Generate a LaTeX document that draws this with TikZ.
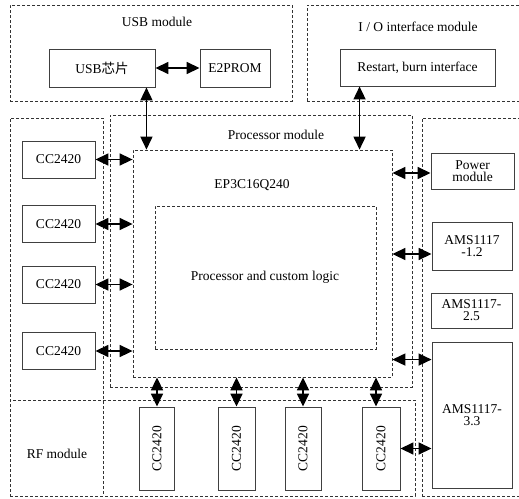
\documentclass[tikz,border=0pt]{standalone}
\usepackage{fontspec}
\setmainfont{Liberation Serif}
\newfontfamily\cjk{Noto Sans CJK SC}
\usepackage{tikz}
\usetikzlibrary{arrows.meta,positioning}

\begin{document}
\begin{tikzpicture}[
    x=1pt, y=-1pt,
    font=\fontsize{13.5}{15}\selectfont,
    link/.style={{Triangle[length=13pt,width=12pt]}-{Triangle[length=13pt,width=12pt]}, line width=1.6pt, draw=black},
    frame/.style={
      draw=black!80,
      line width=0.8pt,
      dash pattern=on 3pt off 2pt,
      inner sep=0pt
    },
    chip/.style={
      draw=black!75,
      line width=0.9pt,
      align=center,
      inner sep=2pt
    },
    label/.style={inner sep=0pt, align=center}
  ]
    \clip (0,0) rectangle (519,498);

    % module frames
    \node[frame, minimum width=282pt, minimum height=96pt] (usbmod) at (151,53) {};
    \node[frame, minimum width=223pt, minimum height=96pt] (iomod) at (418.5,53) {};
    \node[frame, minimum width=93pt, minimum height=378pt] (leftcol) at (56.5,307) {};
    \node[frame, minimum width=108pt, minimum height=378pt] (rightcol) at (476,307) {};
    \node[frame, minimum width=405pt, minimum height=96pt] (rfmod) at (212.5,448) {};
    \node[frame, minimum width=302pt, minimum height=272pt] (procmod) at (261,251) {};
    \node[frame, minimum width=259pt, minimum height=227pt] (ep3c) at (262.5,263.5) {};
    \node[frame, minimum width=221pt, minimum height=143pt] (logic) at (265.5,277.5) {};

    % frame labels
    \node[label] (usblabel) at (157,22) {USB module};
    \node[label] (iolabel) at (418,27) {I / O interface module};
    \node[label] (proclabel) at (276,135) {Processor module};
    \node[label] (ep3clabel) at (252,185) {EP3C16Q240};
    \node[label] (logiclabel) at (265,277) {Processor and custom logic};
    \node[label] (rflabel) at (57,454) {RF module};

    % chips
    \node[chip, minimum width=106pt, minimum height=38pt] (usbchip) at (102,68) {USB{\cjk 芯片}};
    \node[chip, minimum width=70pt, minimum height=38pt] (eeprom) at (235,68) {E2PROM};
    \node[chip, minimum width=155pt, minimum height=37pt] (restart) at (417.5,67.5) {Restart, burn interface};

    \node[chip, minimum width=73pt, minimum height=37pt] (ccleftA) at (58.5,159.5) {CC2420};
    \node[chip, minimum width=73pt, minimum height=37pt] (ccleftB) at (58.5,224) {CC2420};
    \node[chip, minimum width=73pt, minimum height=37pt] (ccleftC) at (58.5,284.5) {CC2420};
    \node[chip, minimum width=73pt, minimum height=37pt] (ccleftD) at (58.5,351) {CC2420};

    \node[chip, minimum width=83pt, minimum height=36pt] (power) at (472.5,171) {Power\\[-3pt]module};
    \node[chip, minimum width=80pt, minimum height=48pt] (amsA) at (472,246) {AMS1117\\[-3pt]-1.2};
    \node[chip, minimum width=81pt, minimum height=35pt] (amsB) at (471.5,310.5) {AMS1117-\\[-3pt]2.5};
    \node[chip, minimum width=80pt, minimum height=146pt] (amsC) at (472,415) {AMS1117-\\[-3pt]3.3};

    \node[chip, minimum width=83pt, minimum height=35pt, rotate=90] (ccbotA) at (157,448.5) {CC2420};
    \node[chip, minimum width=83pt, minimum height=37pt, rotate=90] (ccbotB) at (236.5,448.5) {CC2420};
    \node[chip, minimum width=83pt, minimum height=36pt, rotate=90] (ccbotC) at (303,448.5) {CC2420};
    \node[chip, minimum width=83pt, minimum height=38pt, rotate=90] (ccbotD) at (381,448.5) {CC2420};

    % connectors
    \draw[link] (usbchip) -- (eeprom);
    \draw[link] ([xshift=-9pt]usbchip.south east) -- ([xshift=-9pt]usbchip.south east |- ep3c.north);
    \draw[link] ([xshift=20pt]restart.south west) -- ([xshift=20pt]restart.south west |- ep3c.north);

    \draw[link] (ccleftA.east) -- (ccleftA.east -| ep3c.west);
    \draw[link] (ccleftB.east) -- (ccleftB.east -| ep3c.west);
    \draw[link] (ccleftC.east) -- (ccleftC.east -| ep3c.west);
    \draw[link] (ccleftD.east) -- (ccleftD.east -| ep3c.west);

    \draw[link] ([yshift=-2pt]power.west -| ep3c.east) -- ([yshift=-2pt]power.west);
    \draw[link] ([yshift=-8pt]amsA.west -| ep3c.east) -- ([yshift=-8pt]amsA.west);
    \draw[link] ([yshift=-18pt]amsC.north west -| ep3c.east) -- ([yshift=-18pt]amsC.north west);

    \draw[link] (ccbotA.east |- ep3c.south) -- (ccbotA.east);
    \draw[link] (ccbotB.east |- ep3c.south) -- (ccbotB.east);
    \draw[link] (ccbotC.east |- ep3c.south) -- (ccbotC.east);
    \draw[link] ([xshift=-5pt]ccbotD.east |- ep3c.south) -- ([xshift=-5pt]ccbotD.east);
    \draw[link] (ccbotD.south) -- (ccbotD.south -| amsC.west);
  \end{tikzpicture}
\end{document}
